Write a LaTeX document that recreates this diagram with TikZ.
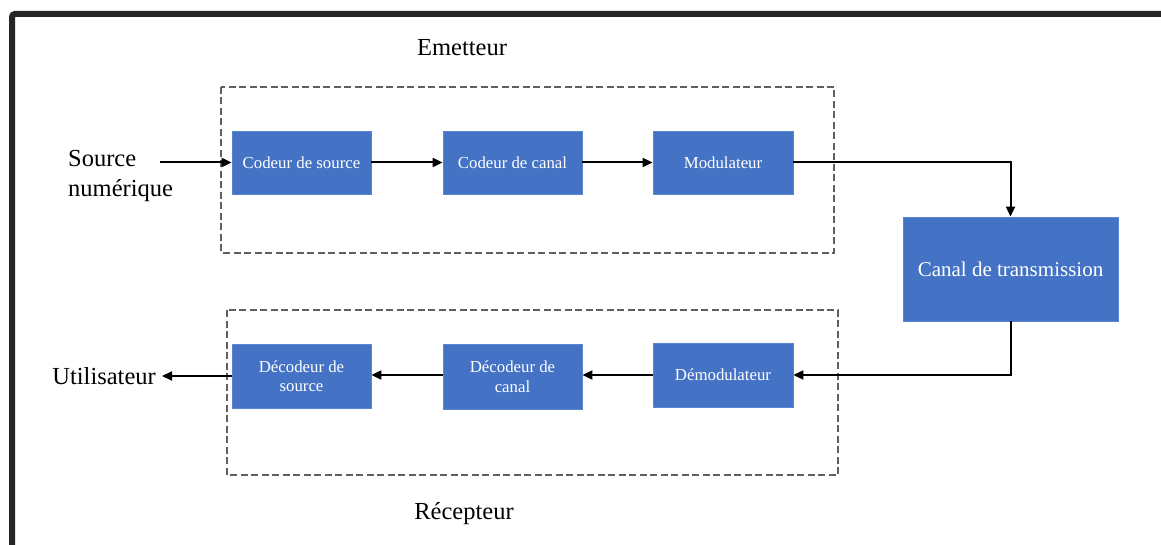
\documentclass[tikz,border=0pt]{standalone}
\usepackage{fontspec}
\setmainfont{Liberation Serif}
\usetikzlibrary{arrows.meta}
\definecolor{blockblue}{HTML}{4472C4}
\definecolor{blockedge}{HTML}{5A86D0}
\definecolor{framegray}{HTML}{262626}
\definecolor{dashgray}{HTML}{5F5F5F}
\tikzset{
  block/.style={rectangle, fill=blockblue, draw=blockedge, line width=0.8pt,
    text=white, align=center, inner sep=0pt, font=\fontsize{16.8}{19.5}\selectfont},
  bigblock/.style={block, font=\fontsize{21}{24}\selectfont},
  label/.style={text=black, inner sep=0pt, font=\fontsize{24.5}{30}\selectfont},
  flow/.style={line width=2pt, draw=black, -{Triangle[length=10pt,width=9pt]}},
  group/.style={dashgray, line width=1.6pt, dash pattern=on 7pt off 3.5pt}
}
\begin{document}
\begin{tikzpicture}[x=1pt,y=-1pt]
  \useasboundingbox (0,0) rectangle (1161,545);
  \fill[white] (0,0) rectangle (1161,545);
  % outer frame (top and left edges)
  \draw[framegray, line width=6pt, rounded corners=3pt] (12,560) -- (12,14) -- (1175,14);

  % transmitter and receiver groups
  \draw[group] (221,87) rectangle (834,253);
  \draw[group] (227,310) rectangle (838,475);
  \node[label] (emet) at (462,48) {Emetteur};
  \node[label] (recep) at (464,514) {Récepteur};

  % transmitter chain
  \node[block, minimum width=139pt, minimum height=63pt] (csrc) at (301.5,162.5) {Codeur de source};
  \node[block, minimum width=139pt, minimum height=63pt] (ccan) at (512.5,162.5) {Codeur de canal};
  \node[block, minimum width=140pt, minimum height=63pt] (mod) at (723,162.5) {Modulateur};

  % channel
  \node[bigblock, minimum width=215pt, minimum height=104pt] (canal) at (1010.5,269) {Canal de transmission};

  % receiver chain
  \node[block, minimum width=140pt, minimum height=64pt] (demod) at (723,375) {Démodulateur};
  \node[block, minimum width=139pt, minimum height=65pt] (dcan) at (512.5,376.5) {Décodeur de\\canal};
  \node[block, minimum width=139pt, minimum height=64pt] (dsrc) at (301.5,376) {Décodeur de\\source};

  % endpoints
  \node[label, align=left, anchor=west] (src) at (68,176) {Source\\numérique};
  \node[label, anchor=east] (user) at (156,376) {Utilisateur};
  \coordinate (srcout) at (160,162.5);
  \coordinate (userin) at (162,376);

  % connectors
  \draw[flow] (srcout) -- (csrc.west);
  \draw[flow] (csrc.east) -- (ccan.west);
  \draw[flow] (ccan.east) -- (mod.west);
  \draw[flow] (mod.east) -| (canal.north);
  \draw[flow] (canal.south) |- (demod.east);
  \draw[flow] (demod.west) -- (dcan.east |- demod.west);
  \draw[flow] (dcan.west |- demod.west) -- (dsrc.east |- demod.west);
  \draw[flow] (dsrc.west |- userin) -- (userin);
\end{tikzpicture}
\end{document}
